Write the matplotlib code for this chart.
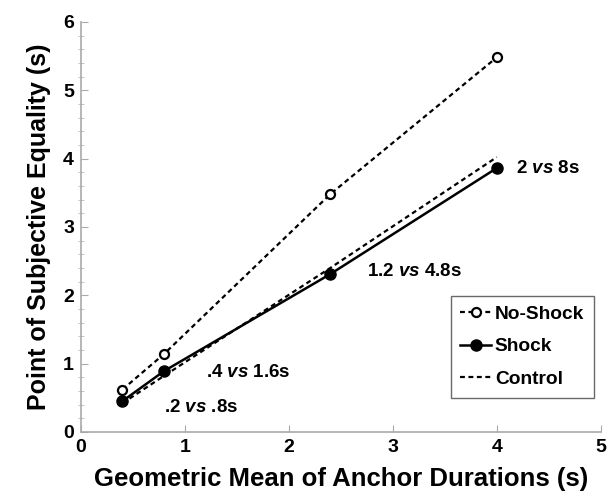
import matplotlib
matplotlib.use("Agg")
import matplotlib.pyplot as plt
from matplotlib.ticker import MultipleLocator

plt.rcParams['font.family'] = ['Liberation Sans', 'DejaVu Sans']
plt.rcParams['font.weight'] = 'bold'
plt.rcParams['axes.labelweight'] = 'bold'
plt.rcParams['mathtext.fontset'] = 'custom'
plt.rcParams['mathtext.rm'] = 'Liberation Sans:bold'
plt.rcParams['mathtext.it'] = 'Liberation Sans:italic:bold'

# data
anchor_mean = [0.4, 0.8, 2.4, 4.0]
no_shock = [0.62, 1.14, 3.48, 5.48]
shock = [0.45, 0.89, 2.31, 3.86]
control = [0.42, 0.82, 2.4, 4.02]
pair_labels = [r'.2 $\mathit{vs}$ .8s', r'.4 $\mathit{vs}$ 1.6s',
               r'1.2 $\mathit{vs}$ 4.8s', r'2 $\mathit{vs}$ 8s']
label_offsets = [(0.4, -0.09), (0.4, -0.02), (0.35, 0.03), (0.19, 0.0)]

fig = plt.figure(figsize=(6.08, 4.97), dpi=100)
ax = fig.add_axes([0.133, 0.131, 0.855, 0.825])

dash = (0, (2.2, 1.6))
ax.plot(anchor_mean, no_shock, color='black', lw=1.6, linestyle=dash,
        marker='o', markersize=6.5, markerfacecolor='white',
        markeredgewidth=1.6, label='No-Shock')
ax.plot(anchor_mean, shock, color='black', lw=1.8, linestyle='-',
        marker='o', markersize=8, markerfacecolor='black', label='Shock')
ax.plot(anchor_mean, control, color='black', lw=1.6, linestyle=dash,
        label='Control')

for xv, yv, lab, (dx, dy) in zip(anchor_mean, shock, pair_labels, label_offsets):
    ax.text(xv + dx, yv + dy, lab, fontsize=13.5, va='center', ha='left')

ax.set_xlim(0, 5)
ax.set_ylim(0, 6)
ax.xaxis.set_major_locator(MultipleLocator(1))
ax.yaxis.set_major_locator(MultipleLocator(1))
ax.yaxis.set_minor_locator(MultipleLocator(0.2))
for s in ['top', 'right']:
    ax.spines[s].set_visible(False)
for s in ['left', 'bottom']:
    ax.spines[s].set_color('#aaaaaa')
    ax.spines[s].set_linewidth(1.2)
ax.tick_params(axis='both', which='major', direction='in', length=5,
               color='#aaaaaa', labelsize=14, pad=5)
ax.tick_params(axis='y', which='minor', direction='inout', length=4,
               color='#bbbbbb')

ax.set_xlabel('Geometric Mean of Anchor Durations (s)', fontsize=18.5,
              labelpad=8)
ax.set_ylabel('Point of Subjective Equality (s)', fontsize=18, labelpad=9)

leg = ax.legend(loc='lower right', bbox_to_anchor=(1.005, 0.06), fontsize=13.8,
                frameon=True, fancybox=False, handlelength=1.6,
                handletextpad=0.2, borderpad=0.5, labelspacing=0.8)
leg.get_frame().set_edgecolor('#444444')
leg.get_frame().set_linewidth(1.0)

fig.savefig('out.png', dpi=100)
